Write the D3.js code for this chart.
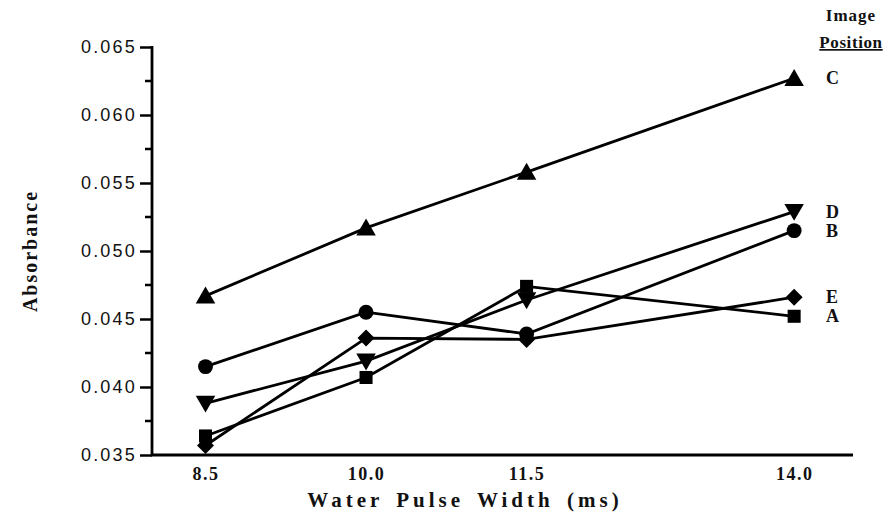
<!DOCTYPE html>
<html><head><meta charset="utf-8">
<script src="https://cdn.jsdelivr.net/npm/d3@7"></script>
<style>
html,body{margin:0;padding:0;background:#fff;}
svg{display:block;}
</style>
</head><body>
<svg id="chart" width="888" height="524"></svg>
<script>
const pulseWidths = [8.5, 10.0, 11.5, 14.0];
const xTickLabels = ["8.5", "10.0", "11.5", "14.0"];
const yTicks = [0.035, 0.040, 0.045, 0.050, 0.055, 0.060, 0.065];
const seriesNames = ["A", "B", "C", "D", "E"];
const seriesA = [0.0364, 0.0407, 0.0474, 0.0452];
const seriesB = [0.0415, 0.0455, 0.0439, 0.0515];
const seriesC = [0.0467, 0.0517, 0.0558, 0.0627];
const seriesD = [0.0388, 0.0419, 0.0464, 0.0529];
const seriesE = [0.0357, 0.0436, 0.0435, 0.0466];

const series = [
  {name: "A", values: seriesA, shape: "square"},
  {name: "B", values: seriesB, shape: "circle"},
  {name: "C", values: seriesC, shape: "up"},
  {name: "D", values: seriesD, shape: "down"},
  {name: "E", values: seriesE, shape: "diamond"}
];

const svg = d3.select("#chart");
const padL = 152, padR = 853, padT = 47, padB = 455;
const x = d3.scaleLinear().domain([8.0, 14.55]).range([padL, padR]);
const y = d3.scaleLinear().domain([0.035, 0.065]).range([padB, padT]);

const serif = "'Liberation Serif','Times New Roman',serif";
const sans = "'Liberation Sans',Arial,sans-serif";

// Y axis
const yAxis = d3.axisLeft(y).tickValues(yTicks).tickFormat(d3.format(".3f")).tickSize(12).tickPadding(3);
const gy = svg.append("g").attr("transform", `translate(${padL},0)`).call(yAxis);
gy.select(".domain").remove();
gy.selectAll(".tick line").attr("stroke", "#000").attr("stroke-width", 2.5);
gy.selectAll(".tick text").attr("font-family", sans).attr("font-size", 18).attr("letter-spacing", "2.2px").attr("fill", "#111");
// minor ticks
const minor = d3.range(0.0375, 0.065, 0.005);
svg.append("g").selectAll("line").data(minor).join("line")
  .attr("x1", padL - 7).attr("x2", padL).attr("y1", d => y(d)).attr("y2", d => y(d))
  .attr("stroke", "#000").attr("stroke-width", 2.5);
svg.append("line").attr("x1", padL).attr("x2", padL).attr("y1", padT - 1).attr("y2", padB + 1)
  .attr("stroke", "#000").attr("stroke-width", 2.8);

// X axis
const xAxis = d3.axisBottom(x).tickValues(pulseWidths).tickFormat((d, i) => xTickLabels[i]).tickSize(0).tickPadding(12);
const gx = svg.append("g").attr("transform", `translate(0,${padB})`).call(xAxis);
gx.select(".domain").remove();
gx.selectAll(".tick text").attr("font-family", serif).attr("font-weight", "bold").attr("font-size", 18)
  .attr("letter-spacing", "1.5px").attr("fill", "#111");
svg.append("line").attr("x1", padL - 1).attr("x2", padR).attr("y1", padB).attr("y2", padB)
  .attr("stroke", "#000").attr("stroke-width", 2.8);

// axis titles
svg.append("text").attr("x", 465).attr("y", 507).attr("text-anchor", "middle")
  .attr("font-family", serif).attr("font-weight", "bold").attr("font-size", 21).attr("letter-spacing", "4px")
  .attr("word-spacing", "4px")
  .attr("fill", "#111").text("Water Pulse Width (ms)");
svg.append("text").attr("transform", `translate(37,${(padT + padB) / 2}) rotate(-90)`).attr("text-anchor", "middle")
  .attr("font-family", serif).attr("font-weight", "bold").attr("font-size", 20).attr("letter-spacing", "2px")
  .attr("fill", "#111").text("Absorbance");

// lines
const line = d3.line().x((d, i) => x(pulseWidths[i])).y(d => y(d));
svg.append("g").selectAll("path").data(series).join("path")
  .attr("d", d => line(d.values)).attr("fill", "none").attr("stroke", "#000").attr("stroke-width", 2.8);

// markers
function symbolFor(shape) {
  if (shape === "square") return d3.symbol(d3.symbolSquare, 170)();
  if (shape === "circle") return d3.symbol(d3.symbolCircle, 175)();
  if (shape === "diamond") return d3.symbol(d3.symbolSquare, 145)();
  return d3.symbol(d3.symbolTriangle, 165)();
}
function rot(shape) {
  if (shape === "down") return 180;
  if (shape === "diamond") return 45;
  return 0;
}
series.forEach(s => {
  svg.append("g").selectAll("path").data(s.values).join("path")
    .attr("d", symbolFor(s.shape))
    .attr("transform", (d, i) => `translate(${x(pulseWidths[i])},${y(d) + (s.shape === "up" ? 2 : s.shape === "down" ? -2 : 0)}) rotate(${rot(s.shape)})`)
    .attr("fill", "#000");
});

// end labels
svg.append("g").selectAll("text").data(series).join("text")
  .attr("x", 826).attr("y", d => y(d.values[d.values.length - 1]) + 6)
  .attr("font-family", serif).attr("font-weight", "bold").attr("font-size", 18).attr("fill", "#111")
  .text(d => d.name);

// legend title
svg.append("text").attr("x", 851).attr("y", 21).attr("text-anchor", "middle")
  .attr("font-family", serif).attr("font-weight", "bold").attr("font-size", 17).attr("letter-spacing", "1px")
  .attr("fill", "#111").text("Image");
svg.append("text").attr("x", 851).attr("y", 48).attr("text-anchor", "middle")
  .attr("font-family", serif).attr("font-weight", "bold").attr("font-size", 17).attr("letter-spacing", "0.6px")
  .attr("text-decoration", "underline")
  .attr("fill", "#111").text("Position");
</script>
</body></html>
